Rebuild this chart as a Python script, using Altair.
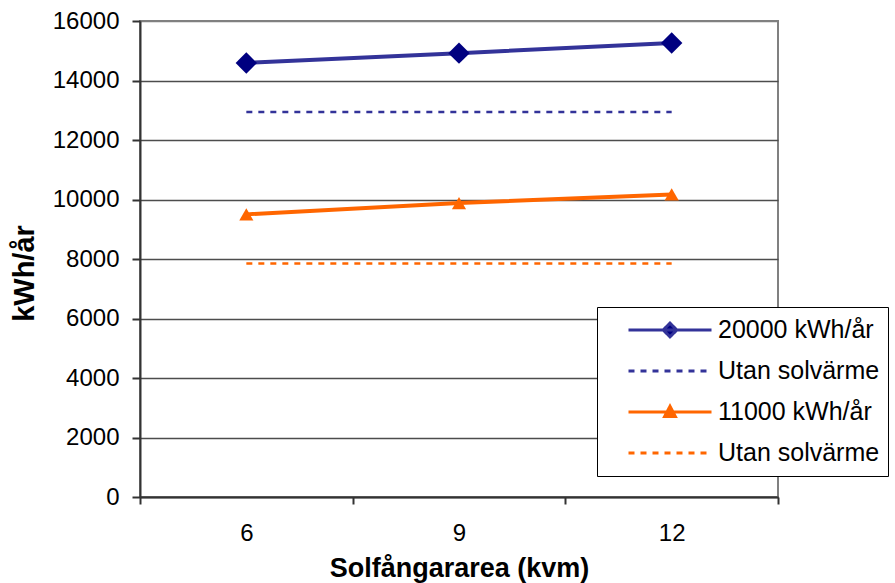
import altair as alt
import pandas as pd

# ---- data ----
areas = ["6", "9", "12"]
series_names = ["20000 kWh/år", "Utan solvärme", "11000 kWh/år", "Utan solvärme "]
high_with_solar = [14590, 14920, 15260]
high_without = [12940, 12940, 12940]
low_with_solar = [9500, 9880, 10170]
low_without = [7850, 7850, 7850]
y_ticks = [0, 2000, 4000, 6000, 8000, 10000, 12000, 14000, 16000]

rows = []
for name, vals in zip(series_names, [high_with_solar, high_without, low_with_solar, low_without]):
    for a, v in zip(areas, vals):
        rows.append({"area": a, "value": v, "series": name})
df = pd.DataFrame(rows)

FONT = "Liberation Sans"
BLUE = "#333399"
NAVY = "#000080"
ORANGE = "#FF6600"
AXIS_DARK = "#333333"

x_enc = alt.X(
    "area:N",
    sort=areas,
    scale=alt.Scale(type="band", domain=areas, paddingInner=0, paddingOuter=0),
    axis=alt.Axis(
        labelAngle=0, tickBand="extent", grid=False,
        labelFont=FONT, labelFontSize=24, labelColor="black", labelPadding=17,
        tickSize=7, tickColor=AXIS_DARK, tickWidth=2,
        domainColor=AXIS_DARK, domainWidth=2,
        title="Solfångararea (kvm)", titleFont=FONT, titleFontSize=27,
        titleFontWeight="bold", titleColor="black",
        titleY=79, titleBaseline="alphabetic",
    ),
)
y_enc = alt.Y(
    "value:Q",
    scale=alt.Scale(domain=[0, 16000], nice=False),
    axis=alt.Axis(
        values=y_ticks, format="d",
        labelFont=FONT, labelFontSize=24, labelColor="black", labelPadding=13,
        tickSize=8, tickColor=AXIS_DARK, tickWidth=2,
        domainColor=AXIS_DARK, domainWidth=2,
        gridColor=alt.condition("datum.value === 16000", alt.value("#808080"), alt.value("#4d4d4d")),
        gridWidth=1.5,
        title="kWh/år", titleFont=FONT, titleFontSize=29, titleFontWeight="bold",
        titleColor="black", titleAngle=270, titleX=-107, titleY=252,
        titleAlign="center", titleBaseline="alphabetic",
    ),
)

base = alt.Chart(df).encode(x=x_enc, y=y_enc)

def only(name):
    return alt.datum.series == name

line_a = base.transform_filter(only(series_names[0])).mark_line(color=BLUE, strokeWidth=4)
line_b = base.transform_filter(only(series_names[1])).mark_line(color=BLUE, strokeWidth=2.5, strokeDash=[6, 6])
line_c = base.transform_filter(only(series_names[2])).mark_line(color=ORANGE, strokeWidth=4)
line_d = base.transform_filter(only(series_names[3])).mark_line(color=ORANGE, strokeWidth=2.5, strokeDash=[6, 6])
pts_a = base.transform_filter(only(series_names[0])).mark_point(
    shape="diamond", filled=True, color=NAVY, size=460, opacity=1)
pts_c = base.transform_filter(only(series_names[2])).mark_point(
    shape="triangle-up", filled=True, color=ORANGE, size=200, opacity=1)

legend = alt.Legend(
    title=None, orient="none", legendX=457, legendY=286,
    symbolSize=6889, symbolStrokeWidth=3, clipHeight=30, rowPadding=11,
    padding=8, symbolOffset=22, labelOffset=5,
    labelFont=FONT, labelFontSize=25, labelColor="black", labelLimit=400,
    strokeColor="black", fillColor="white",
)
path_a = "M-1,0L1,0M-0.165,0L0,-0.165L0.165,0L0,0.165Z"
path_line = "M-1,0L1,0"
path_c = "M-1,0L1,0M0,-0.14L-0.13,0.11L0.13,0.11Z"

legend_layer = base.transform_filter("false").mark_point(
    filled=True, opacity=1, strokeWidth=3, size=6889
).encode(
    fill=alt.Fill("series:N", scale=alt.Scale(domain=series_names, range=[NAVY, BLUE, ORANGE, ORANGE]), legend=legend),
    stroke=alt.Stroke("series:N", scale=alt.Scale(domain=series_names, range=[BLUE, BLUE, ORANGE, ORANGE]), legend=legend),
    strokeDash=alt.StrokeDash("series:N", scale=alt.Scale(domain=series_names, range=[[1, 0], [6, 6], [1, 0], [6, 6]]), legend=legend),
    shape=alt.Shape("series:N", scale=alt.Scale(domain=series_names, range=[path_a, path_line, path_c, path_line]), legend=legend),
)

chart = alt.layer(
    line_a, line_b, line_c, line_d, pts_a, pts_c, legend_layer
).properties(
    width=638, height=476,
    autosize=alt.AutoSizeParams(type="none"),
    padding={"left": 140, "top": 21, "right": 117, "bottom": 86},
).configure_view(
    stroke="#808080", strokeWidth=2
)

chart.save("out.html", embed_options={"renderer": "svg", "actions": False})
